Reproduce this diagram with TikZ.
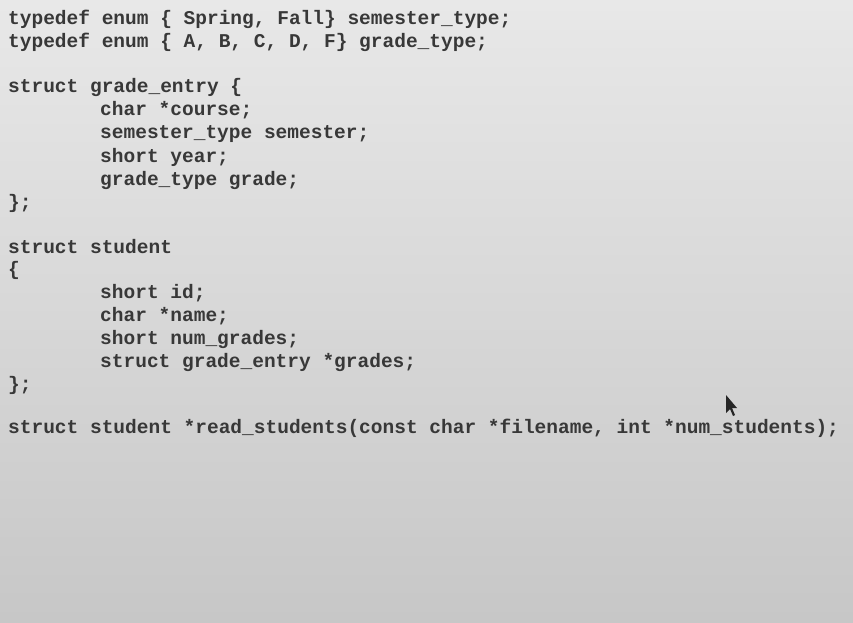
\documentclass[tikz,border=0pt]{standalone}
\usepackage{fontspec}
\setmonofont{Liberation Mono}
\begin{document}
\begin{tikzpicture}[x=1pt,y=-1pt,
 code/.style={anchor=base west,inner sep=0pt,font=\fontsize{19.5}{19.5}\ttfamily\bfseries,text=black!78}]
\useasboundingbox (0,0) rectangle (853,623);
\shade[top color=black!9,bottom color=black!22] (0,0) rectangle (853,623);
\node[code] (l1) at (8,25) {typedef enum \{ Spring, Fall\} semester\_type;};
\node[code] (l2) at (8,48) {typedef enum \{ A, B, C, D, F\} grade\_type;};
\node[code] (l3) at (8,93) {struct grade\_entry \{};
\node[code] (l4) at (100,116) {char *course;};
\node[code] (l5) at (100,139) {semester\_type semester;};
\node[code] (l6) at (100,162) {short year;};
\node[code] (l7) at (100,185) {grade\_type grade;};
\node[code] (l8) at (8,208) {\};};
\node[code] (l9) at (8,253) {struct student};
\node[code] (l10) at (8,275) {\{};
\node[code] (l11) at (100,298) {short id;};
\node[code] (l12) at (100,321) {char *name;};
\node[code] (l13) at (100,344) {short num\_grades;};
\node[code] (l14) at (100,367) {struct grade\_entry *grades;};
\node[code] (l15) at (8,390) {\};};
\node[code] (l16) at (8,433) {struct student *read\_students(const char *filename, int *num\_students);};
\fill[black!85] (726,395) -- (726,413) -- (730,409) -- (733,416) -- (735,415) -- (732,408) -- (737,408) -- cycle;
\end{tikzpicture}
\end{document}
